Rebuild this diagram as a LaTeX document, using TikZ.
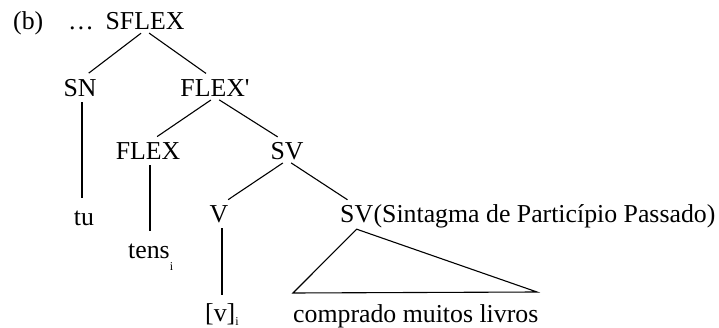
\documentclass[tikz,border=0pt]{standalone}
\usepackage{fontspec}
\setmainfont{Liberation Serif}
\newfontfamily\plainrm{Liberation Serif}
\newcommand{\subi}[1]{\raisebox{#1}{\fontsize{12}{12}\selectfont i}}
\begin{document}
\begin{tikzpicture}[x=1pt,y=-1pt,
  lbl/.style={inner sep=0pt, text height=17pt, text depth=0pt, anchor=base,
    font=\fontsize{25.8}{30}\selectfont},
  edge/.style={line width=1.1pt, shorten <=5pt, shorten >=11pt},
  plain/.style={line width=1.1pt}]
\useasboundingbox (0,0) rectangle (719,328);
% labels
\node[lbl, anchor=base west] (b) at (13,30) {(b)};
\node[lbl, anchor=base west] (dots) at (68,30) {…};
\node[lbl] (SFLEX) at (145,30) {SFLEX};
\node[lbl] (SN) at (80,97) {SN};
\node[lbl] (FLEXb) at (215,97) {\plainrm FLEX'};
\node[lbl] (FLEX) at (148,160) {FLEX};
\node[lbl] (SV) at (287,160) {SV};
\node[lbl] (tu) at (84,226) {tu};
\node[lbl, anchor=base west] (tens) at (128,259) {tens\subi{-11pt}};
\node[lbl] (V) at (219,223) {V};
\node[lbl, anchor=base west] (SVp) at (340,223) {SV};
\node[lbl, anchor=base west] (SVtxt) at (SVp.base east) {(Sintagma de Particípio Passado)};
\node[lbl, anchor=base west] (v) at (205,321) {[v]\subi{-4pt}};
\node[lbl, anchor=base west] (compr) at (293,322) {comprado muitos livros};
% branches
\draw[edge] (SFLEX.south) -- (SN.north);
\draw[edge] (SFLEX.south) -- (FLEXb.north);
\draw[edge] (FLEXb.south) -- (FLEX.north);
\draw[edge] (FLEXb.south) -- (SV.north);
\draw[edge] (SV.south) -- (V.north);
\draw[edge] (SV.south) -- (SVp.north);
\draw[edge] ([xshift=2pt]SN.south) -- ([xshift=2pt]SN.south |- tu.north);
\draw[edge] ([xshift=2pt]FLEX.south) -- ([xshift=2pt]FLEX.south |- tens.north);
\draw[edge, shorten >=9pt] ([xshift=3pt]V.south) -- ([xshift=3pt]V.south |- v.north);
% triangle
\coordinate (apx) at ([yshift=-6pt]SVp.south);
\coordinate (tl) at (293,293);
\coordinate (tr) at (537,292);
\draw[plain, line join=miter] (apx) -- (tr) -- (tl) -- cycle;
\end{tikzpicture}
\end{document}
